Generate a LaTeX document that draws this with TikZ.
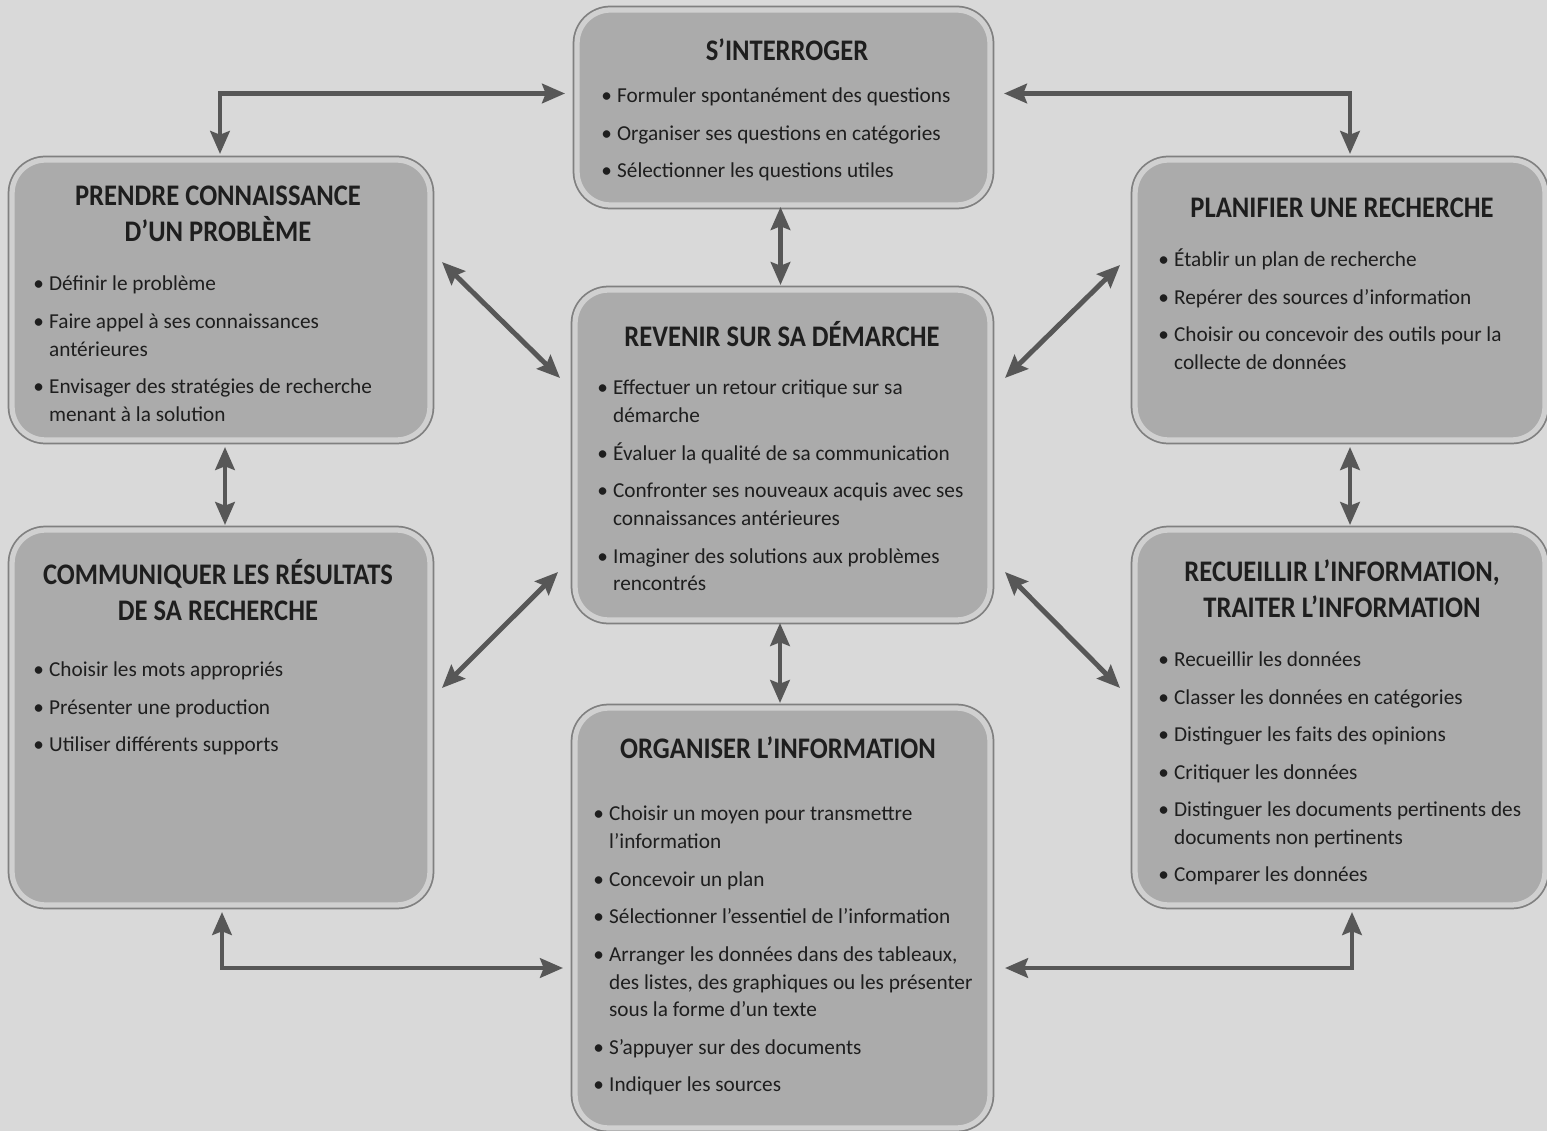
\documentclass[tikz,border=0pt]{standalone}
\usepackage{fontspec}
\setmainfont{Carlito}
\newfontfamily\titlefont{Carlito}[FakeStretch=0.89]
\usetikzlibrary{arrows.meta,calc,shadows}
\definecolor{bgc}{HTML}{D9D9D9}
\definecolor{boxfill}{HTML}{ABABAB}
\definecolor{rimlight}{HTML}{D0D0D0}
\definecolor{rimdark}{HTML}{808080}
\definecolor{arrowc}{HTML}{575757}
\definecolor{txt}{HTML}{1E1E1E}
\newcommand\bl{\strut\makebox[9pt][l]{\textbullet}}
\newcommand\cl{\strut\hspace{9pt}}
\begin{document}
\begin{tikzpicture}[x=0.02cm,y=-0.02cm,
  box/.style={rectangle, rounded corners=19pt, fill=boxfill, draw=rimlight, line width=3pt,
    inner sep=0pt, outer sep=0pt, preaction={draw=rimdark, line width=5pt},
    drop shadow={shadow xshift=1.5pt, shadow yshift=-1.5pt, opacity=0.3}},
  ttl/.style={font=\titlefont\bfseries\fontsize{17}{20.4}\selectfont, text=txt, align=center, inner sep=0pt},
  lst/.style={font=\fontsize{12.1}{15.9}\selectfont, text=txt, align=left, anchor=north west, inner sep=0pt},
  arr/.style={draw=arrowc, line width=2.8pt, {Stealth[length=13pt,width=11pt,inset=2pt]}-{Stealth[length=13pt,width=11pt,inset=2pt]}}
]
\fill[bgc] (0,0) rectangle (1547,1131);
\useasboundingbox (0,0) rectangle (1547,1131);

% boxes
\node[box, minimum width=8.26cm, minimum height=3.9cm] (Q) at (783.5,107.5) {};
\node[box, minimum width=8.36cm, minimum height=5.6cm] (P) at (221,300) {};
\node[box, minimum width=8.2cm, minimum height=5.6cm] (L) at (1340,300) {};
\node[box, minimum width=8.3cm, minimum height=6.6cm] (R) at (782.5,455) {};
\node[box, minimum width=8.36cm, minimum height=7.5cm] (C) at (221,717.5) {};
\node[box, minimum width=8.2cm, minimum height=7.5cm] (T) at (1340,717.5) {};
\node[box, minimum width=8.3cm, minimum height=8.4cm] (O) at (782.5,918) {};

% titles
\node[ttl] (Qt) at (787,50) {S’INTERROGER};
\node[ttl] (Pt) at (218,214) {PRENDRE CONNAISSANCE\\D’UN PROBLÈME};
\node[ttl] (Lt) at (1342,208) {PLANIFIER UNE RECHERCHE};
\node[ttl] (Rt) at (782,334) {REVENIR SUR SA DÉMARCHE};
\node[ttl] (Ct) at (218,590) {COMMUNIQUER LES RÉSULTATS\\DE SA RECHERCHE};
\node[ttl] (Tt) at (1342,589) {RECUEILLIR L’INFORMATION,\\TRAITER L’INFORMATION};
\node[ttl] (Ot) at (778,748) {ORGANISER L’INFORMATION};

% lists
\node[lst] (Ql) at (601,83) {\bl Formuler spontanément des questions\\[5.4pt]
\bl Organiser ses questions en catégories\\[5.4pt]
\bl Sélectionner les questions utiles};
\node[lst] (Pl) at (33,271) {\bl Définir le problème\\[5.4pt]
\bl Faire appel à ses connaissances\\\cl antérieures\\[5.4pt]
\bl Envisager des stratégies de recherche\\\cl menant à la solution};
\node[lst] (Ll) at (1158,247) {\bl Établir un plan de recherche\\[5.4pt]
\bl Repérer des sources d’information\\[5.4pt]
\bl Choisir ou concevoir des outils pour la\\\cl collecte de données};
\node[lst] (Rl) at (597,375) {\bl Effectuer un retour critique sur sa\\\cl démarche\\[5.4pt]
\bl Évaluer la qualité de sa communication\\[5.4pt]
\bl Confronter ses nouveaux acquis avec ses\\\cl connaissances antérieures\\[5.4pt]
\bl Imaginer des solutions aux problèmes\\\cl rencontrés};
\node[lst] (Cl) at (33,657) {\bl Choisir les mots appropriés\\[5.4pt]
\bl Présenter une production\\[5.4pt]
\bl Utiliser différents supports};
\node[lst] (Tl) at (1158,647) {\bl Recueillir les données\\[5.4pt]
\bl Classer les données en catégories\\[5.4pt]
\bl Distinguer les faits des opinions\\[5.4pt]
\bl Critiquer les données\\[5.4pt]
\bl Distinguer les documents pertinents des\\\cl documents non pertinents\\[5.4pt]
\bl Comparer les données};
\node[lst] (Ol) at (593,801) {\bl Choisir un moyen pour transmettre\\\cl l’information\\[5.4pt]
\bl Concevoir un plan\\[5.4pt]
\bl Sélectionner l’essentiel de l’information\\[5.4pt]
\bl Arranger les données dans des tableaux,\\\cl des listes, des graphiques ou les présenter\\\cl sous la forme d’un texte\\[5.4pt]
\bl S’appuyer sur des documents\\[5.4pt]
\bl Indiquer les sources};

% connectors
\draw[arr] ($(P.north)+(-1,-6)$) |- ($(Q.west)+(-12,-14)$);
\draw[arr] ($(L.north)+(10,-6)$) |- ($(Q.east)+(14,-14)$);
\draw[arr] ($(Q.south)+(-3,2)$) -- ($(R.north)+(-2,-5)$);
\draw[arr] ($(P.east)+(12,-38)$) -- ($(R.west)+(-15,-77)$);
\draw[arr] ($(L.west)+(-15,-35)$) -- ($(R.east)+(15,-77)$);
\draw[arr] ($(P.south)+(4,7)$) -- ($(C.north)+(4,-5)$);
\draw[arr] ($(L.south)+(10,7)$) -- ($(T.north)+(10,-5)$);
\draw[arr] ($(R.west)+(-17,117)$) -- ($(C.east)+(12,-29.5)$);
\draw[arr] ($(R.east)+(15,117)$) -- ($(T.west)+(-15,-29.5)$);
\draw[arr] ($(R.south)+(-2.5,3)$) -- ($(O.north)+(-2.5,-5)$);
\draw[arr] ($(C.south)+(1,7)$) |- ($(O.west)+(-12,50)$);
\draw[arr] ($(T.south)+(12,7)$) |- ($(O.east)+(15,50)$);
\end{tikzpicture}
\end{document}
